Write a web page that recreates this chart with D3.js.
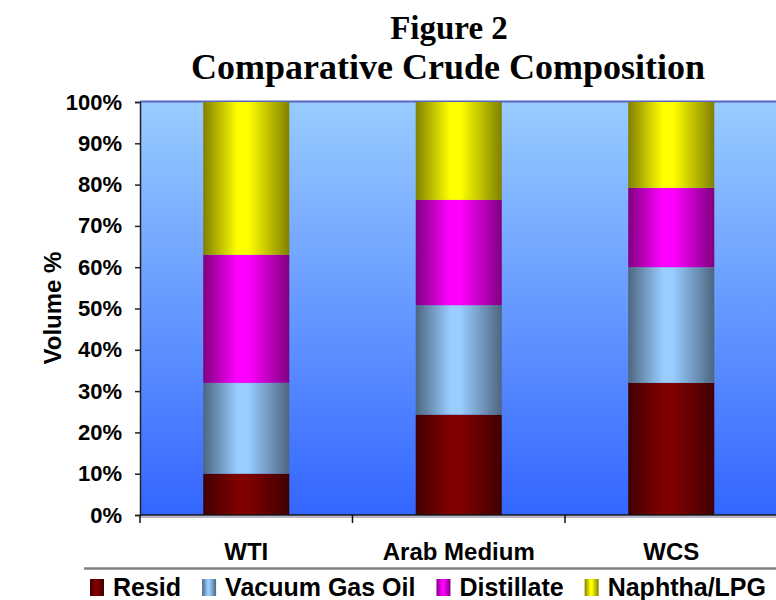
<!DOCTYPE html>
<html>
<head>
<meta charset="utf-8">
<script src="https://cdn.jsdelivr.net/npm/d3@7"></script>
<style>
  body { margin: 0; background: #fff; }
  svg { display: block; }
  text { font-family: Arial, "Liberation Sans", sans-serif; font-weight: bold; fill: #000; }
  .title { font-family: "Times New Roman", "Liberation Serif", serif; }
</style>
</head>
<body>
<div id="chart"></div>
<script>
// crude composition, volume % of each cut
var categories = ["WTI", "Arab Medium", "WCS"];
var seriesNames = ["Resid", "Vacuum Gas Oil", "Distillate", "Naphtha/LPG"];
var resid = [10, 24.3, 32];
var vacuumGasOil = [22, 26.5, 28];
var distillate = [31, 25.5, 19.2];
var naphthaLpg = [37, 23.7, 20.8];
var yTicks = [0, 10, 20, 30, 40, 50, 60, 70, 80, 90, 100];

// center colour of each cylinder, edges are the same colour at half strength
var colors = ["#800000", "#99ccff", "#ff00ff", "#ffff00"];

var width = 776, height = 600;
var margin = {top: 102, left: 140, bottom: 515, right: 777.5};

var svg = d3.select("#chart").append("svg")
    .attr("width", width)
    .attr("height", height);

var defs = svg.append("defs");

// plot background gradient
var bg = defs.append("linearGradient")
    .attr("id", "bg").attr("x1", 0).attr("y1", 0).attr("x2", 0).attr("y2", 1);
bg.append("stop").attr("offset", "0%").attr("stop-color", "#99ccff");
bg.append("stop").attr("offset", "100%").attr("stop-color", "#3366ff");

// cylinder look for the bars
colors.forEach(function (c, i) {
    var rgb = d3.rgb(c);
    var dk = d3.rgb(rgb.r * 0.5, rgb.g * 0.5, rgb.b * 0.5);
    var g = defs.append("linearGradient")
        .attr("id", "bar" + i).attr("x1", 0).attr("y1", 0).attr("x2", 1).attr("y2", 0);
    g.append("stop").attr("offset", "0%").attr("stop-color", dk);
    g.append("stop").attr("offset", "40%").attr("stop-color", c);
    g.append("stop").attr("offset", "52%").attr("stop-color", c);
    g.append("stop").attr("offset", "100%").attr("stop-color", dk);
});

var x = d3.scaleBand()
    .domain(categories)
    .range([margin.left, margin.right])
    .paddingInner(0.595)
    .paddingOuter(0.2976);

var y = d3.scaleLinear()
    .domain([0, 100])
    .range([margin.bottom, margin.top]);

// title
svg.append("text").attr("class", "title")
    .attr("x", 449).attr("y", 39)
    .attr("text-anchor", "middle")
    .style("font-size", "33px")
    .text("Figure 2");
svg.append("text").attr("class", "title")
    .attr("x", 448).attr("y", 79)
    .attr("text-anchor", "middle")
    .style("font-size", "36px")
    .text("Comparative Crude Composition");

// plot area
svg.append("rect")
    .attr("x", margin.left).attr("y", margin.top - 1)
    .attr("width", width - margin.left).attr("height", margin.bottom - margin.top + 1)
    .attr("fill", "url(#bg)");
svg.append("line")
    .attr("x1", margin.left).attr("x2", width)
    .attr("y1", margin.top - 0.5).attr("y2", margin.top - 0.5)
    .attr("stroke", "#5a64c4").attr("stroke-width", 2);

// stacked bars
var rows = categories.map(function (c, i) {
    return {cat: c, "Resid": resid[i], "Vacuum Gas Oil": vacuumGasOil[i],
        "Distillate": distillate[i], "Naphtha/LPG": naphthaLpg[i]};
});
var stacked = d3.stack().keys(seriesNames)(rows);

svg.selectAll(".layer")
    .data(stacked)
    .enter().append("g")
    .attr("class", "layer")
    .attr("fill", function (d, i) { return "url(#bar" + i + ")"; })
    .selectAll("rect")
    .data(function (d) { return d; })
    .enter().append("rect")
    .attr("x", function (d) { return x(d.data.cat); })
    .attr("y", function (d) { return y(d[1]); })
    .attr("width", x.bandwidth())
    .attr("height", function (d) { return y(d[0]) - y(d[1]); });

// y axis
var yAxis = svg.append("g")
    .attr("transform", "translate(" + margin.left + ",0)")
    .call(d3.axisLeft(y).tickValues(yTicks).tickSize(5).tickPadding(13)
        .tickFormat(function (d) { return d + "%"; }));
yAxis.select(".domain").attr("stroke", "#222").attr("stroke-width", 1.5);
yAxis.selectAll(".tick line").attr("stroke", "#222").attr("stroke-width", 1.5);
yAxis.selectAll(".tick text")
    .style("font-size", "22px").style("font-family", "Arial, 'Liberation Sans', sans-serif")
    .style("font-weight", "bold").attr("fill", "#000");

// x axis: shadow, line and boundary ticks
svg.append("line")
    .attr("x1", margin.left).attr("x2", width)
    .attr("y1", margin.bottom + 2).attr("y2", margin.bottom + 2)
    .attr("stroke", "#b8b8c8").attr("stroke-width", 2);
svg.append("line")
    .attr("x1", margin.left).attr("x2", width)
    .attr("y1", margin.bottom).attr("y2", margin.bottom)
    .attr("stroke", "#111").attr("stroke-width", 1.5);
var bounds = d3.range(categories.length + 1).map(function (i) {
    return margin.left + i * x.step();
});
svg.selectAll(".xtick")
    .data(bounds)
    .enter().append("line")
    .attr("x1", function (d) { return d; }).attr("x2", function (d) { return d; })
    .attr("y1", margin.bottom).attr("y2", margin.bottom + 8)
    .attr("stroke", "#111").attr("stroke-width", 1.5);

svg.selectAll(".xlabel")
    .data(categories)
    .enter().append("text")
    .attr("x", function (d) { return x(d) + x.bandwidth() / 2; })
    .attr("y", 560)
    .attr("text-anchor", "middle")
    .style("font-size", "24px")
    .text(function (d) { return d; });

// y axis title
svg.append("text")
    .attr("transform", "translate(61,308) rotate(-90)")
    .attr("text-anchor", "middle")
    .style("font-size", "24px")
    .text("Volume %");

// legend
svg.append("line")
    .attr("x1", 84).attr("x2", width)
    .attr("y1", 568.5).attr("y2", 568.5)
    .attr("stroke", "#808080").attr("stroke-width", 2.5);

var lx = 90;
seriesNames.forEach(function (name, i) {
    svg.append("rect")
        .attr("x", lx).attr("y", 579)
        .attr("width", 14).attr("height", 17)
        .attr("fill", "url(#bar" + i + ")");
    var t = svg.append("text")
        .attr("x", lx + 23).attr("y", 596)
        .style("font-size", "25px")
        .text(name);
    lx += 23 + t.node().getComputedTextLength() + 21;
});
</script>
</body>
</html>
